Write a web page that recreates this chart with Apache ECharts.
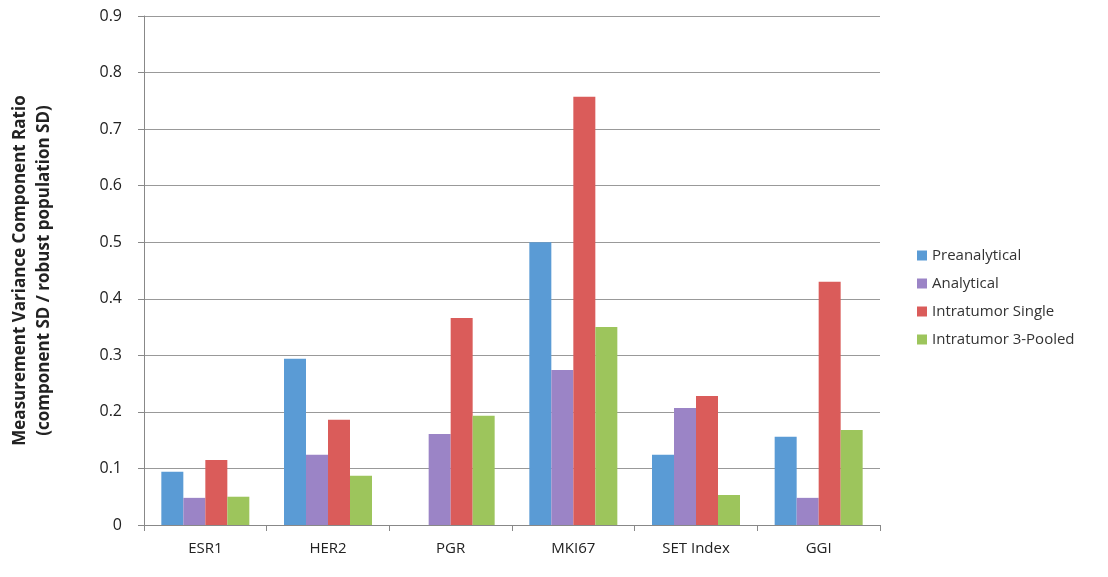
<!DOCTYPE html>
<html><head><meta charset="utf-8">
<script src="https://cdn.jsdelivr.net/npm/echarts@6/dist/echarts.min.js"></script>
<style>html,body{margin:0;padding:0;background:#fff}#c{width:1108px;height:577px}</style>
</head><body><div id="c"></div>
<script>
const categories = ["ESR1","HER2","PGR","MKI67","SET Index","GGI"];
const preanalytical = [0.094,0.294,0,0.5,0.124,0.156];
const analytical = [0.048,0.124,0.161,0.274,0.207,0.048];
const intratumorSingle = [0.115,0.186,0.366,0.757,0.228,0.43];
const intratumorPooled = [0.05,0.087,0.193,0.35,0.053,0.168];
const yTicks = [0,0.1,0.2,0.3,0.4,0.5,0.6,0.7,0.8,0.9];
const font = "'Open Sans', sans-serif";
const chart = echarts.init(document.getElementById('c'));
const mk = (name, data, color) => ({name, type:'bar', data, barWidth:22, barGap:'0%', itemStyle:{color}});
chart.setOption({
  animation:false,
  textStyle:{fontFamily:font},
  grid:{left:143,right:228,top:16,bottom:52},
  legend:{orient:'vertical',left:912,top:243,itemWidth:10,itemHeight:10,itemGap:13,
    textStyle:{fontSize:15,color:'#333',fontFamily:font},icon:'rect'},
  xAxis:{type:'category',data:categories,axisTick:{show:true,alignWithLabel:false,length:6,lineStyle:{color:'#888'}},
    axisLine:{lineStyle:{color:'#888'}},axisLabel:{fontSize:15,color:'#222',margin:16}},
  yAxis:{type:'value',min:0,max:0.9,interval:0.1,
    axisLabel:{fontSize:16,color:'#222',margin:22,formatter:v=>yTicks.includes(+v.toFixed(1))?String(+v.toFixed(1)):''},
    axisLine:{show:true,lineStyle:{color:'#888'}},axisTick:{show:true,length:6,lineStyle:{color:'#888'}},
    splitLine:{lineStyle:{color:'#999'}},
    name:'Measurement Variance Component Ratio\n(component SD / robust population SD)',
    nameLocation:'middle',nameGap:88,nameTextStyle:{fontSize:17,fontWeight:'bold',color:'#222',lineHeight:24}},
  series:[
    mk('Preanalytical',preanalytical,'#5A9BD5'),
    mk('Analytical',analytical,'#9B84C6'),
    mk('Intratumor Single',intratumorSingle,'#DA5C5A'),
    mk('Intratumor 3-Pooled',intratumorPooled,'#9DC55C')
  ]
});
</script></body></html>
